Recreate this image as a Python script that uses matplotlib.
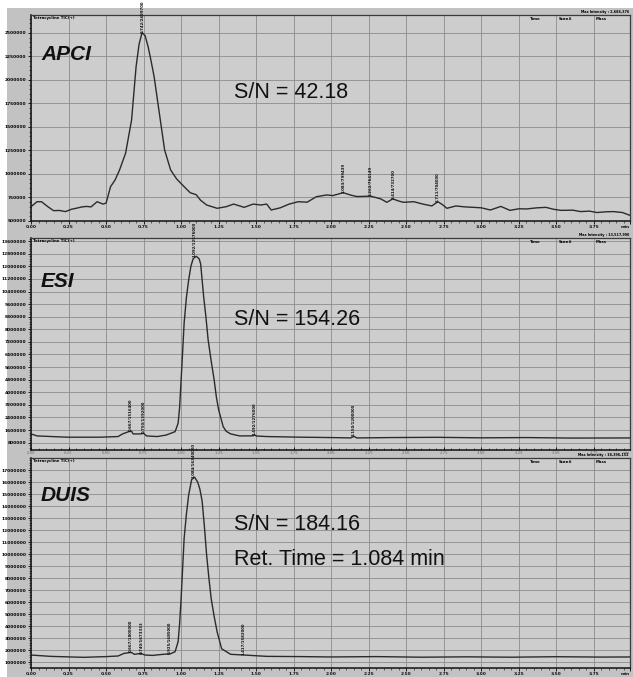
import numpy as np
import matplotlib.pyplot as plt
from matplotlib.ticker import MultipleLocator, FixedLocator
from matplotlib.patches import Rectangle

# ---- data (time in min, intensity in counts) ----
apci_t = [0.00, 0.04, 0.07, 0.11, 0.15, 0.19, 0.23, 0.27, 0.30, 0.34, 0.37, 0.40, 0.44, 0.48, 0.50,
          0.53, 0.56, 0.59, 0.63, 0.67, 0.70, 0.72, 0.74, 0.76, 0.78, 0.80, 0.82, 0.855, 0.89, 0.93,
          0.97, 1.02, 1.06, 1.10, 1.13, 1.17, 1.21, 1.24, 1.30, 1.35, 1.42, 1.48, 1.53, 1.57, 1.60,
          1.66, 1.72, 1.78, 1.84, 1.90, 1.97, 2.01, 2.08, 2.13, 2.17, 2.22, 2.26, 2.30, 2.33, 2.37,
          2.41, 2.45, 2.48, 2.55, 2.61, 2.67, 2.71, 2.74, 2.77, 2.83, 2.89, 2.95, 3.00, 3.06, 3.13,
          3.19, 3.25, 3.30, 3.37, 3.43, 3.48, 3.53, 3.61, 3.66, 3.72, 3.77, 3.83, 3.88, 3.94, 3.99]
apci_i = [652e3, 705e3, 705e3, 655e3, 610e3, 612e3, 600e3, 625e3, 635e3, 650e3, 655e3, 650e3, 705e3, 680e3, 690e3,
          865e3, 936e3, 1043e3, 1220e3, 1574e3, 2141e3, 2380e3, 2503e3, 2470e3, 2354e3, 2200e3, 2035e3, 1645e3, 1255e3, 1043e3,
          947e3, 865e3, 801e3, 780e3, 720e3, 670e3, 650e3, 635e3, 652e3, 680e3, 645e3, 680e3, 670e3, 680e3, 617e3,
          640e3, 680e3, 705e3, 700e3, 758e3, 777e3, 770e3, 801e3, 775e3, 760e3, 762e3, 765e3, 748e3, 735e3, 699e3,
          735e3, 712e3, 699e3, 705e3, 680e3, 660e3, 705e3, 675e3, 635e3, 660e3, 650e3, 645e3, 640e3, 617e3, 655e3,
          613e3, 630e3, 628e3, 640e3, 645e3, 625e3, 613e3, 615e3, 600e3, 605e3, 590e3, 598e3, 600e3, 590e3, 560e3]

esi_t = [0.00, 0.04, 0.24, 0.46, 0.58, 0.61, 0.65, 0.67, 0.68, 0.73, 0.75, 0.77, 0.84, 0.90, 0.96,
         0.98, 0.99, 1.00, 1.01, 1.02, 1.035, 1.05, 1.065, 1.08, 1.10, 1.12, 1.13, 1.15, 1.165, 1.18,
         1.20, 1.22, 1.235, 1.25, 1.28, 1.30, 1.33, 1.39, 1.48, 1.49, 1.50, 1.57, 1.80, 2.00, 2.13,
         2.15, 2.17, 2.40, 2.70, 3.00, 3.30, 3.60, 3.99]
esi_i = [1352e3, 1224e3, 1144e3, 1144e3, 1184e3, 1352e3, 1496e3, 1520e3, 1352e3, 1352e3, 1392e3, 1224e3, 1184e3, 1280e3, 1496e3,
         2032e3, 3040e3, 4784e3, 6560e3, 8400e3, 10000e3, 11120e3, 12000e3, 12480e3, 12640e3, 12480e3, 12160e3, 10080e3, 8800e3, 7320e3,
         6000e3, 4784e3, 3680e3, 2880e3, 1816e3, 1520e3, 1352e3, 1224e3, 1230e3, 1290e3, 1220e3, 1184e3, 1144e3, 1120e3, 1096e3,
         1200e3, 1096e3, 1120e3, 1136e3, 1104e3, 1120e3, 1088e3, 1096e3]

duis_t = [0.00, 0.13, 0.35, 0.50, 0.58, 0.62, 0.667, 0.69, 0.73, 0.76, 0.81, 0.88, 0.93, 0.96, 0.98,
          0.99, 1.00, 1.01, 1.02, 1.035, 1.05, 1.07, 1.09, 1.11, 1.125, 1.14, 1.155, 1.17, 1.185, 1.20,
          1.22, 1.24, 1.27, 1.33, 1.42, 1.57, 1.80, 2.00, 2.30, 2.60, 2.90, 3.20, 3.50, 3.80, 3.99]
duis_i = [1.58e6, 1.47e6, 1.39e6, 1.45e6, 1.50e6, 1.72e6, 1.80e6, 1.64e6, 1.72e6, 1.58e6, 1.55e6, 1.64e6, 1.69e6, 1.86e6, 2.7e6,
          4.2e6, 6.3e6, 8.8e6, 11.3e6, 13.3e6, 14.9e6, 16.2e6, 16.4e6, 16.0e6, 15.4e6, 14.4e6, 12.3e6, 9.9e6, 8.0e6, 6.3e6,
          4.8e6, 3.5e6, 2.1e6, 1.64e6, 1.58e6, 1.47e6, 1.45e6, 1.42e6, 1.45e6, 1.40e6, 1.43e6, 1.40e6, 1.44e6, 1.41e6, 1.42e6]

# peak marker labels (retention times)
apci_peaks = [0.742, 2.083, 2.262, 2.414, 2.711]
esi_peaks = [0.667, 0.750, 1.092, 1.492, 2.150]
duis_peaks = [0.667, 0.740, 0.925, 1.084, 1.417]

apci_ticks = [500000, 750000, 1000000, 1250000, 1500000, 1750000, 2000000, 2250000, 2500000]
esi_ticks = [800000 * k for k in range(1, 18)]
duis_ticks = [1000000 * k for k in range(1, 18)]
x_ticks = [0.00, 0.25, 0.50, 0.75, 1.00, 1.25, 1.50, 1.75, 2.00, 2.25, 2.50, 2.75, 3.00, 3.25, 3.50, 3.75]

W, H = 633, 677
fig = plt.figure(figsize=(W / 100, H / 100), dpi=100)
fig.patch.set_facecolor('white')
fig.patches.append(Rectangle((7 / W, 0), 1, 1 - 8 / H, transform=fig.transFigure,
                             facecolor='#c2c2c2', edgecolor='none', zorder=-10))

SANS = 'Liberation Sans'


def px(x, y):
    return x / W, 1 - y / H


def panel(top, bottom, t, inten, ylim, yticks, peaks, max_txt, name, name_y, lines, xlab_color):
    ax = fig.add_axes([31 / W, 1 - bottom / H, 599 / W, (bottom - top) / H])
    ax.set_facecolor('#cdcdcd')
    ax.plot(t, inten, color='#2b2b2b', lw=1.0)
    ax.set_xlim(0, 3.99)
    ax.set_ylim(*ylim)
    ax.xaxis.set_major_locator(FixedLocator(x_ticks + [3.99]))
    ax.set_xticklabels([f'{v:.2f}' for v in x_ticks] + ['min'])
    ax.xaxis.set_minor_locator(MultipleLocator(0.05))
    ax.yaxis.set_major_locator(FixedLocator(yticks))
    ax.set_yticklabels([str(v) for v in yticks])
    ax.yaxis.set_minor_locator(MultipleLocator((yticks[1] - yticks[0]) / 5))
    ax.grid(True, which='major', color='#8c8c8c', lw=0.6)
    ax.tick_params(axis='both', which='major', length=2, width=0.6, labelsize=3.2, pad=1.2)
    ax.tick_params(axis='both', which='minor', length=1.2, width=0.4)
    ax.tick_params(axis='x', labelcolor=xlab_color)
    for lab in ax.get_xticklabels() + ax.get_yticklabels():
        lab.set_fontweight('bold')
    ax.get_xticklabels()[-1].set_horizontalalignment('right')
    for s in ['left', 'bottom']:
        ax.spines[s].set_linewidth(1.1)
        ax.spines[s].set_color('#111111')
    for s in ['top', 'right']:
        ax.spines[s].set_linewidth(0.9)
        ax.spines[s].set_color('#3a3a3a')

    # peak labels
    for p in peaks:
        yv = np.interp(p, t, inten)
        ax.text(p, yv, f'{p:.3f}/{int(yv)}', rotation=90, ha='center', va='bottom',
                fontsize=2.8, fontweight='bold', color='#111111', clip_on=False)

    ax.text(0.004, 0.995, 'Tetracycline TIC(+)', transform=ax.transAxes, fontsize=2.8,
            va='top', ha='left', fontweight='bold')
    for lbl, xx in [('Time', 535), ('Scan#', 566), ('Mass', 601)]:
        fig.text(*px(xx, top + 4), lbl, fontsize=2.8, fontweight='bold', ha='center', va='center')
    fig.text(*px(629, top - 0.8), 'Max Intensity : ' + max_txt, fontsize=2.4, fontweight='bold',
             ha='right', va='bottom')

    fig.text(*px(41, name_y), name, family=SANS, fontsize=15, fontweight='bold',
             fontstyle='italic', color='#111111', va='baseline')
    for txt, yy in lines:
        fig.text(*px(234, yy), txt, family=SANS, fontsize=15.5, color='#111111', va='baseline')
    return ax


panel(15, 221, apci_t, apci_i, (500000, 2690000), apci_ticks, apci_peaks, '2,686,376',
      'APCI', 60, [('S/N = 42.18', 98)], '#111111')
esi = panel(238, 450, esi_t, esi_i, (330000, 13800000), esi_ticks, esi_peaks, '13,517,990',
            'ESI', 287, [('S/N = 154.26', 325)], '#8a8a8a')
esi.tick_params(axis='x', which='both', direction='in')
esi.tick_params(axis='x', which='major', pad=0.4, labelsize=2.5)
panel(458, 668, duis_t, duis_i, (500000, 18000000), duis_ticks, duis_peaks, '18,396,152',
      'DUIS', 501, [('S/N = 184.16', 530), ('Ret. Time = 1.084 min', 565)], '#111111')

fig.savefig('out.png', dpi=100, facecolor=fig.get_facecolor())
